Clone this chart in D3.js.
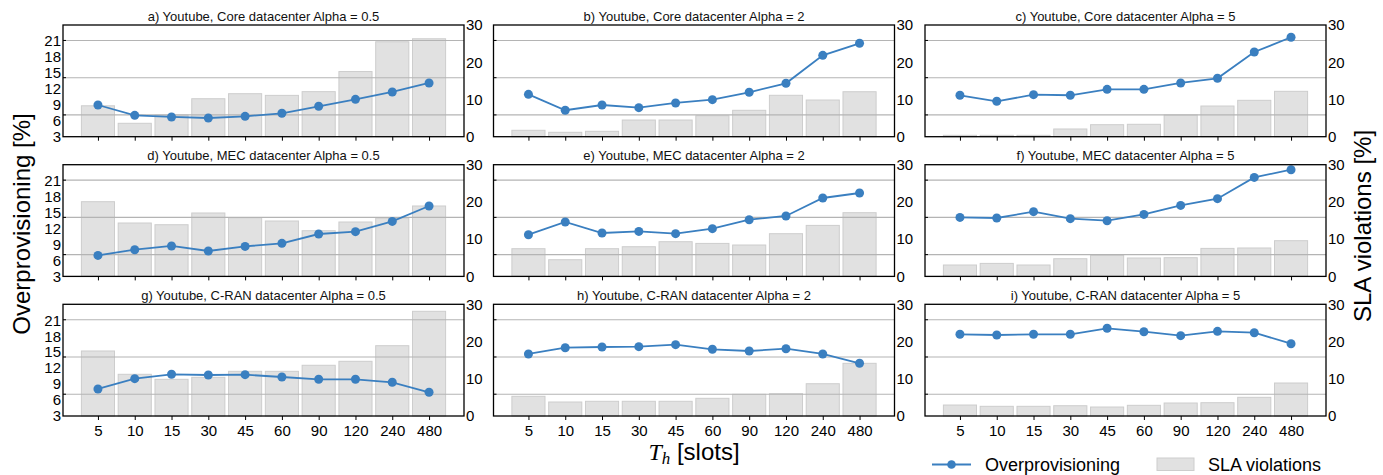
<!DOCTYPE html>
<html>
<head>
<meta charset="utf-8">
<script src="https://cdn.jsdelivr.net/npm/d3@7"></script>
<style>
  html, body { margin: 0; padding: 0; background: #fff; }
  svg { display: block; font-family: "Liberation Sans", Arial, Helvetica, sans-serif; }
</style>
</head>
<body>
<svg id="chart" width="1383" height="475"></svg>
<script>
// ---------------- data ----------------
const categories = ["5", "10", "15", "30", "45", "60", "90", "120", "240", "480"];
const panelTitles = [
  "a) Youtube, Core datacenter Alpha = 0.5",
  "b) Youtube, Core datacenter Alpha = 2",
  "c) Youtube, Core datacenter Alpha = 5",
  "d) Youtube, MEC datacenter Alpha = 0.5",
  "e) Youtube, MEC datacenter Alpha = 2",
  "f) Youtube, MEC datacenter Alpha = 5",
  "g) Youtube, C-RAN datacenter Alpha = 0.5",
  "h) Youtube, C-RAN datacenter Alpha = 2",
  "i) Youtube, C-RAN datacenter Alpha = 5"
];
const overA = [8.96, 7.02, 6.71, 6.52, 6.83, 7.40, 8.72, 10.03, 11.41, 13.10];
const slaA  = [8.3, 3.6, 5.8, 10.2, 11.55, 11.1, 12.1, 17.5, 25.5, 26.3];
const overB = [10.97, 7.97, 8.96, 8.46, 9.34, 9.96, 11.35, 13.04, 18.30, 20.56];
const slaB  = [1.72, 1.18, 1.45, 4.48, 4.48, 5.64, 7.09, 11.12, 9.85, 12.08];
const overC = [10.79, 9.66, 10.90, 10.79, 11.91, 11.91, 13.10, 13.98, 18.92, 21.69];
const slaC  = [0.37, 0.37, 0.37, 2.07, 3.22, 3.33, 5.83, 8.24, 9.77, 12.19];
const overD = [6.95, 8.02, 8.72, 7.78, 8.64, 9.21, 10.97, 11.41, 13.34, 16.24];
const slaD  = [20.06, 14.34, 13.88, 17.03, 15.76, 14.88, 12.27, 14.61, 15.68, 18.91];
const overE = [10.84, 13.23, 11.16, 11.46, 11.03, 11.97, 13.66, 14.36, 17.74, 18.68];
const slaE  = [7.44, 4.48, 7.44, 7.97, 9.32, 8.86, 8.43, 11.47, 13.70, 17.11];
const overF = [14.09, 13.98, 15.17, 13.85, 13.47, 14.66, 16.35, 17.61, 21.61, 23.06];
const slaF  = [3.06, 3.49, 3.06, 4.75, 5.64, 4.94, 5.02, 7.52, 7.63, 9.59];
const overG = [8.08, 10.02, 10.84, 10.71, 10.77, 10.33, 9.90, 9.90, 9.34, 7.46];
const slaG  = [17.46, 11.2, 9.85, 10.39, 12.0, 12.0, 13.62, 14.69, 18.88, 28.12];
const overH = [14.66, 15.84, 15.97, 16.03, 16.41, 15.54, 15.22, 15.65, 14.66, 12.91];
const slaH  = [5.29, 3.76, 3.95, 3.95, 3.95, 4.75, 5.83, 5.99, 8.67, 14.15];
const overI = [18.36, 18.23, 18.36, 18.36, 19.49, 18.85, 18.10, 18.92, 18.66, 16.59];
const slaI  = [2.95, 2.60, 2.60, 2.76, 2.41, 2.87, 3.49, 3.57, 5.02, 8.86];

const leftTicks = [3, 6, 9, 12, 15, 18, 21];
const rightTicks = [0, 10, 20, 30];
const gridLevels = [5.85, 15.85, 25.85];   // horizontal grid (right-axis units)
const legendLabels = ["Overprovisioning", "SLA violations"];

const overSeries = [overA, overB, overC, overD, overE, overF, overG, overH, overI];
const slaSeries  = [slaA, slaB, slaC, slaD, slaE, slaF, slaG, slaH, slaI];

// ---------------- layout ----------------
const colLeft = [63, 493.5, 925];
const rowTop = [25, 164.7, 304.3];
const pw = 401, ph = 111.7;
const lineColor = "#3a7fc0";

const svg = d3.select("#chart");

const x = d3.scaleLinear().domain([-0.95, categories.length - 1 + 0.95]).range([0, pw]);
const yL = d3.scaleLinear().domain([3, 24]).range([ph, 0]);
const yR = d3.scaleLinear().domain([0, 30]).range([ph, 0]);
const barW = x(0.9) - x(0);

panelTitles.forEach((title, p) => {
  const col = p % 3, row = Math.floor(p / 3);
  const g = svg.append("g").attr("transform", `translate(${colLeft[col]},${rowTop[row]})`);
  const over = overSeries[p], sla = slaSeries[p];

  // bars
  g.selectAll("rect.bar").data(sla).enter().append("rect")
    .attr("class", "bar")
    .attr("x", (d, i) => x(i) - barW / 2)
    .attr("width", barW)
    .attr("y", d => yR(d))
    .attr("height", d => yR(0) - yR(d))
    .attr("fill", "#e1e1e1")
    .attr("stroke", "#cdcdcd")
    .attr("stroke-width", 1);

  // grid
  g.selectAll("line.grid").data(gridLevels).enter().append("line")
    .attr("x1", 0).attr("x2", pw)
    .attr("y1", d => yR(d)).attr("y2", d => yR(d))
    .attr("stroke", "#b4b4b4").attr("stroke-width", 1.1);

  // left inside tick marks at grid levels
  g.selectAll("line.lt").data(gridLevels).enter().append("line")
    .attr("x1", 0).attr("x2", 3)
    .attr("y1", d => yR(d)).attr("y2", d => yR(d))
    .attr("stroke", "#000").attr("stroke-width", 1);

  // line + markers
  const line = d3.line().x((d, i) => x(i)).y(d => yL(d));
  g.append("path").datum(over)
    .attr("d", line).attr("fill", "none")
    .attr("stroke", lineColor).attr("stroke-width", 1.8);
  g.selectAll("circle").data(over).enter().append("circle")
    .attr("cx", (d, i) => x(i)).attr("cy", d => yL(d)).attr("r", 4.5)
    .attr("fill", lineColor);

  // frame
  g.append("rect").attr("x", 0).attr("y", 0).attr("width", pw).attr("height", ph)
    .attr("fill", "none").attr("stroke", "#000").attr("stroke-width", 1.3);

  // bottom axis
  const xAxis = d3.axisBottom(x)
    .tickValues(d3.range(categories.length))
    .tickSize(4).tickSizeOuter(0).tickPadding(5)
    .tickFormat(i => row === 2 ? categories[i] : "");
  const xa = g.append("g").attr("transform", `translate(0,${ph})`).call(xAxis);
  xa.select(".domain").remove();
  xa.selectAll("text").attr("font-size", 15).attr("fill", "#000")
    .attr("font-family", "Liberation Sans, Arial, sans-serif");

  // right axis
  const rAxis = d3.axisRight(yR).tickValues(rightTicks).tickSize(0).tickPadding(2);
  const ra = g.append("g").attr("transform", `translate(${pw},0)`).call(rAxis);
  ra.select(".domain").remove();
  ra.selectAll("text").attr("font-size", 15).attr("fill", "#000")
    .attr("font-family", "Liberation Sans, Arial, sans-serif");

  // left axis labels (first column only)
  if (col === 0) {
    const lAxis = d3.axisLeft(yL).tickValues(leftTicks).tickSize(0).tickPadding(2);
    const la = g.append("g").call(lAxis);
    la.select(".domain").remove();
    la.selectAll("text").attr("font-size", 15).attr("fill", "#000")
      .attr("font-family", "Liberation Sans, Arial, sans-serif");
  }

  // title
  g.append("text").attr("x", pw / 2).attr("y", -4.3)
    .attr("text-anchor", "middle").attr("font-size", 13).attr("fill", "#111")
    .text(title);
});

// axis labels
svg.append("text")
  .attr("transform", "translate(30,224) rotate(-90)")
  .attr("text-anchor", "middle").attr("font-size", 24).attr("fill", "#000")
  .text("Overprovisioning [%]");
svg.append("text")
  .attr("transform", "translate(1371,226) rotate(-90)")
  .attr("text-anchor", "middle").attr("font-size", 24).attr("fill", "#000")
  .text("SLA violations [%]");

const xl = svg.append("text").attr("x", 694).attr("y", 460)
  .attr("text-anchor", "middle").attr("font-size", 24).attr("fill", "#000");
xl.append("tspan").attr("font-family", "Liberation Serif, DejaVu Serif, serif")
  .attr("font-style", "italic").text("T");
xl.append("tspan").attr("font-family", "Liberation Serif, DejaVu Serif, serif")
  .attr("font-style", "italic").attr("font-size", 17).attr("dy", 4).text("h");
xl.append("tspan").attr("dy", -4).text(" [slots]");

// legend
const lg = svg.append("g");
lg.append("line").attr("x1", 932).attr("x2", 971).attr("y1", 464.5).attr("y2", 464.5)
  .attr("stroke", lineColor).attr("stroke-width", 1.8);
lg.append("circle").attr("cx", 951.5).attr("cy", 464.5).attr("r", 4.3).attr("fill", lineColor);
lg.append("text").attr("x", 985).attr("y", 471).attr("font-size", 18).attr("fill", "#000")
  .text(legendLabels[0]);
lg.append("rect").attr("x", 1157).attr("y", 458).attr("width", 37).attr("height", 12.5)
  .attr("fill", "#e1e1e1").attr("stroke", "#cdcdcd").attr("stroke-width", 1);
lg.append("text").attr("x", 1208).attr("y", 471).attr("font-size", 18).attr("fill", "#000")
  .text(legendLabels[1]);
</script>
</body>
</html>
